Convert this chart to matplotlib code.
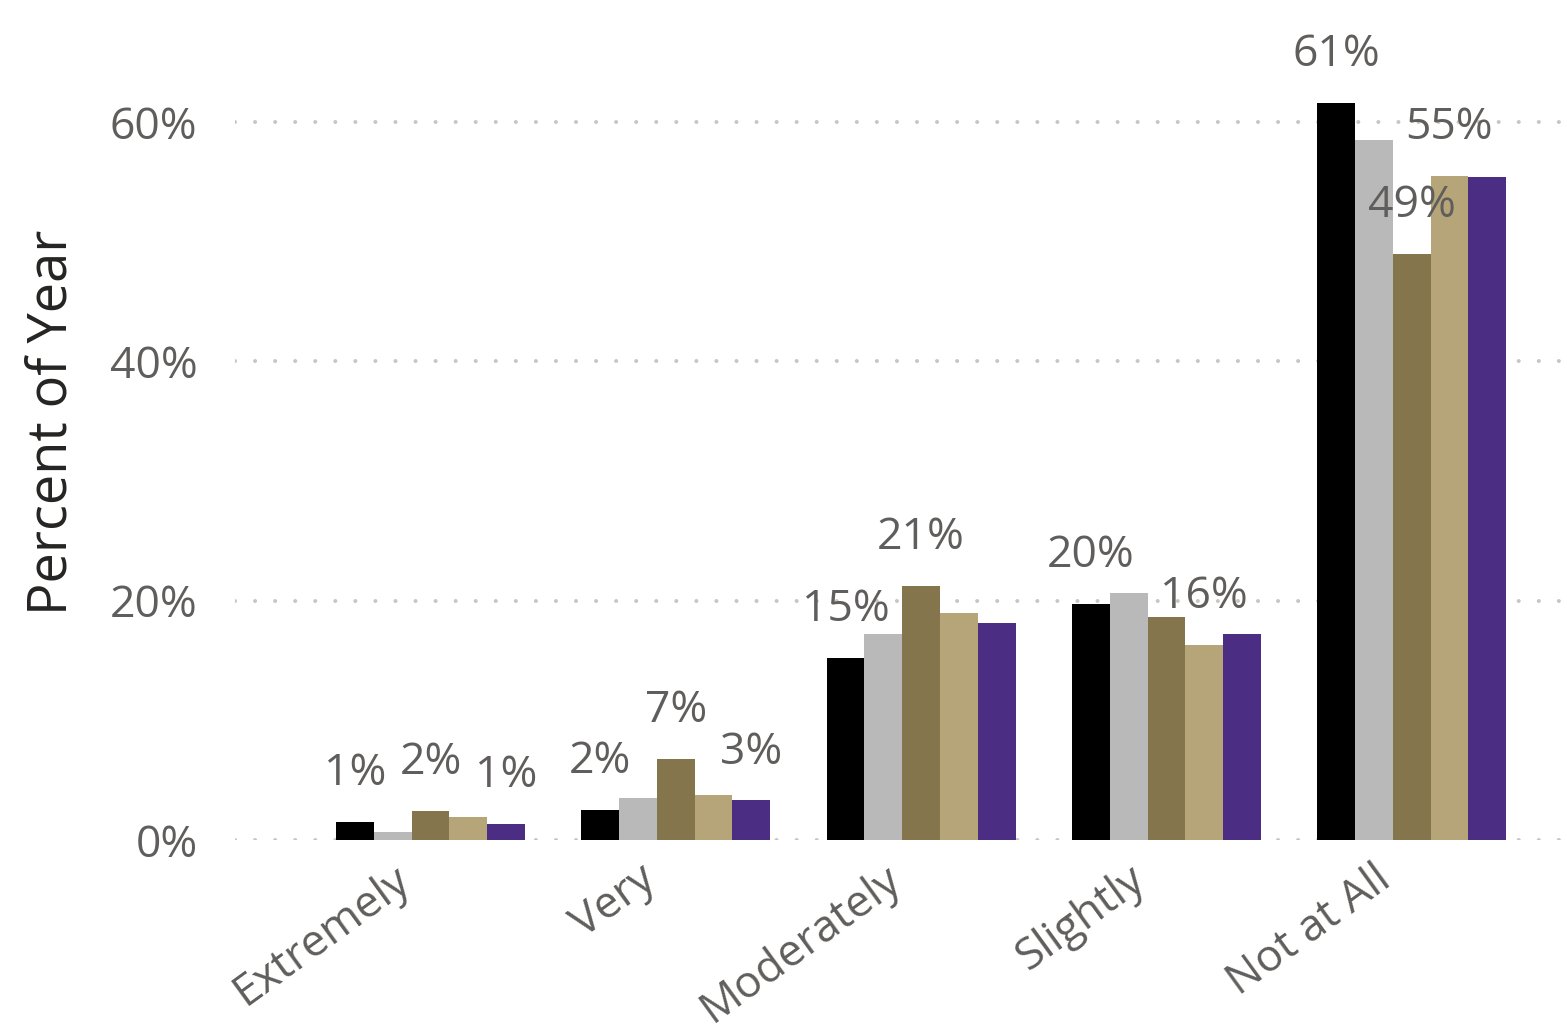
import matplotlib
matplotlib.use("Agg")
import matplotlib.pyplot as plt
import numpy as np

plt.rcParams['font.family'] = ['Open Sans', 'DejaVu Sans']

categories = ["Extremely", "Very", "Moderately", "Slightly", "Not at All"]
series_colors = ["#000000", "#b9b9b9", "#85754d", "#b7a57a", "#4b2e83"]
# values per series (percent), one list per series
s1 = [1.5, 2.5, 15.2, 19.7, 61.6]
s2 = [0.7, 3.5, 17.2, 20.6, 58.5]
s3 = [2.4, 6.8, 21.2, 18.6, 49.0]
s4 = [1.9, 3.8, 19.0, 16.3, 55.5]
s5 = [1.3, 3.3, 18.1, 17.2, 55.4]
# data labels shown (None = no label)
l1 = ["1%", "2%", "15%", "20%", "61%"]
l2 = [None, None, None, None, None]
l3 = ["2%", "7%", "21%", None, "49%"]
l4 = [None, None, None, "16%", "55%"]
l5 = ["1%", "3%", None, None, None]
yticks = [0, 20, 40, 60]
ytick_labels = ["0%", "20%", "40%", "60%"]

series = [s1, s2, s3, s4, s5]
labels = [l1, l2, l3, l4, l5]

fig = plt.figure(figsize=(15.67, 10.24), dpi=100)
ax = fig.add_axes([0.15, 0.1797, 0.847, 0.818])

x = np.arange(len(categories))
w = 0.154
for k, (vals, labs, col) in enumerate(zip(series, labels, series_colors)):
    pos = x + (k - 2) * w
    ax.bar(pos, vals, width=w, color=col, zorder=3)
    for px, v, lab in zip(pos, vals, labs):
        if lab is not None:
            ax.annotate(lab, xy=(px, v), xytext=(0, 26.6), textcoords='offset points',
                        ha='center', va='baseline', fontsize=32, color="#605e5c",
                        zorder=5, annotation_clip=False)

ax.set_xlim(-0.797, 4.614)
ax.set_ylim(0, 70)
ax.set_yticks(yticks)
ax.set_yticklabels(ytick_labels)
ax.tick_params(axis='y', length=0, pad=27, labelsize=32, labelcolor="#605e5c")
ax.set_xticks([])
for yv in yticks:
    ax.axhline(yv, color="#c8c6c4", linewidth=2.9, linestyle=(0, (0.01, 4.97)),
               dash_capstyle='round', zorder=1)
for sp in ax.spines.values():
    sp.set_visible(False)

for i, c in enumerate(categories):
    ax.annotate(c, xy=(i, 0), xytext=(-27.4, -12.4), textcoords='offset points',
                rotation=36, ha='right', va='top', rotation_mode='anchor',
                fontsize=32, color="#605e5c", annotation_clip=False)

fig.text(52 / 1567, 0.588, "Percent of Year", rotation=90, ha='center', va='center',
         fontsize=39, color="#252423")

fig.savefig("out.png", dpi=100, facecolor="white")
